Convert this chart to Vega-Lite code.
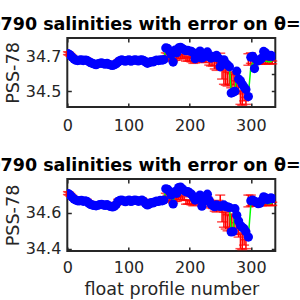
{
 "$schema": "https://vega.github.io/schema/vega-lite/v6.json",
 "autosize": {"type": "pad"},
 "padding": {"left": -49.7, "top": 14, "right": 0, "bottom": 0},
 "bounds": "flush",
 "spacing": 72,
 "data": {"values": [
  {"p":1,"s1":34.715,"lo1":34.71,"hi1":34.726,"c1":34.715,"s2":34.708,"lo2":34.703,"hi2":34.719,"c2":34.708},
  {"p":3,"s1":34.712,"lo1":34.707,"hi1":34.723,"c1":34.712,"s2":34.705,"lo2":34.70,"hi2":34.716,"c2":34.705},
  {"p":5,"s1":34.705,"lo1":34.70,"hi1":34.716,"c1":34.705,"s2":34.698,"lo2":34.693,"hi2":34.709,"c2":34.698},
  {"p":8,"s1":34.695,"lo1":34.69,"hi1":34.706,"c1":34.695,"s2":34.688,"lo2":34.683,"hi2":34.699,"c2":34.688},
  {"p":11,"s1":34.685,"lo1":34.68,"hi1":34.696,"c1":34.685,"s2":34.678,"lo2":34.673,"hi2":34.689,"c2":34.678},
  {"p":14,"s1":34.678,"lo1":34.673,"hi1":34.689,"c1":34.678,"s2":34.672,"lo2":34.667,"hi2":34.683,"c2":34.672},
  {"p":17,"s1":34.676,"lo1":34.671,"hi1":34.687,"c1":34.676,"s2":34.668,"lo2":34.663,"hi2":34.679,"c2":34.668},
  {"p":20,"s1":34.678,"lo1":34.673,"hi1":34.689,"c1":34.678,"s2":34.668,"lo2":34.663,"hi2":34.679,"c2":34.668},
  {"p":23,"s1":34.68,"lo1":34.675,"hi1":34.691,"c1":34.68,"s2":34.67,"lo2":34.665,"hi2":34.681,"c2":34.67},
  {"p":26,"s1":34.676,"lo1":34.671,"hi1":34.687,"c1":34.676,"s2":34.665,"lo2":34.66,"hi2":34.676,"c2":34.665},
  {"p":29,"s1":34.679,"lo1":34.674,"hi1":34.69,"c1":34.679,"s2":34.667,"lo2":34.662,"hi2":34.678,"c2":34.667},
  {"p":32,"s1":34.677,"lo1":34.672,"hi1":34.688,"c1":34.677,"s2":34.665,"lo2":34.66,"hi2":34.676,"c2":34.665},
  {"p":35,"s1":34.67,"lo1":34.665,"hi1":34.681,"c1":34.67,"s2":34.655,"lo2":34.65,"hi2":34.666,"c2":34.655},
  {"p":38,"s1":34.664,"lo1":34.659,"hi1":34.675,"c1":34.664,"s2":34.648,"lo2":34.643,"hi2":34.659,"c2":34.648},
  {"p":41,"s1":34.66,"lo1":34.655,"hi1":34.671,"c1":34.66,"s2":34.644,"lo2":34.639,"hi2":34.655,"c2":34.644},
  {"p":44,"s1":34.656,"lo1":34.651,"hi1":34.667,"c1":34.656,"s2":34.642,"lo2":34.637,"hi2":34.653,"c2":34.642},
  {"p":47,"s1":34.652,"lo1":34.647,"hi1":34.663,"c1":34.652,"s2":34.64,"lo2":34.635,"hi2":34.651,"c2":34.64},
  {"p":50,"s1":34.657,"lo1":34.652,"hi1":34.668,"c1":34.657,"s2":34.643,"lo2":34.638,"hi2":34.654,"c2":34.643},
  {"p":53,"s1":34.66,"lo1":34.655,"hi1":34.671,"c1":34.66,"s2":34.646,"lo2":34.641,"hi2":34.657,"c2":34.646},
  {"p":56,"s1":34.662,"lo1":34.657,"hi1":34.673,"c1":34.662,"s2":34.648,"lo2":34.643,"hi2":34.659,"c2":34.648},
  {"p":59,"s1":34.658,"lo1":34.653,"hi1":34.669,"c1":34.658,"s2":34.645,"lo2":34.64,"hi2":34.656,"c2":34.645},
  {"p":62,"s1":34.655,"lo1":34.65,"hi1":34.666,"c1":34.655,"s2":34.642,"lo2":34.637,"hi2":34.653,"c2":34.642},
  {"p":65,"s1":34.66,"lo1":34.655,"hi1":34.671,"c1":34.66,"s2":34.646,"lo2":34.641,"hi2":34.657,"c2":34.646},
  {"p":68,"s1":34.654,"lo1":34.649,"hi1":34.665,"c1":34.654,"s2":34.64,"lo2":34.635,"hi2":34.651,"c2":34.64},
  {"p":71,"s1":34.65,"lo1":34.645,"hi1":34.661,"c1":34.65,"s2":34.636,"lo2":34.631,"hi2":34.647,"c2":34.636},
  {"p":74,"s1":34.648,"lo1":34.643,"hi1":34.659,"c1":34.648,"s2":34.634,"lo2":34.629,"hi2":34.645,"c2":34.634},
  {"p":77,"s1":34.652,"lo1":34.647,"hi1":34.663,"c1":34.652,"s2":34.638,"lo2":34.633,"hi2":34.649,"c2":34.638},
  {"p":80,"s1":34.658,"lo1":34.653,"hi1":34.669,"c1":34.658,"s2":34.648,"lo2":34.643,"hi2":34.659,"c2":34.648},
  {"p":83,"s1":34.668,"lo1":34.663,"hi1":34.679,"c1":34.668,"s2":34.665,"lo2":34.66,"hi2":34.676,"c2":34.665},
  {"p":86,"s1":34.676,"lo1":34.671,"hi1":34.687,"c1":34.676,"s2":34.67,"lo2":34.665,"hi2":34.681,"c2":34.67},
  {"p":89,"s1":34.68,"lo1":34.675,"hi1":34.691,"c1":34.68,"s2":34.672,"lo2":34.667,"hi2":34.683,"c2":34.672},
  {"p":92,"s1":34.675,"lo1":34.67,"hi1":34.686,"c1":34.675,"s2":34.667,"lo2":34.662,"hi2":34.678,"c2":34.667},
  {"p":95,"s1":34.672,"lo1":34.667,"hi1":34.683,"c1":34.672,"s2":34.663,"lo2":34.658,"hi2":34.674,"c2":34.663},
  {"p":98,"s1":34.677,"lo1":34.672,"hi1":34.688,"c1":34.677,"s2":34.668,"lo2":34.663,"hi2":34.679,"c2":34.668},
  {"p":101,"s1":34.68,"lo1":34.675,"hi1":34.691,"c1":34.68,"s2":34.672,"lo2":34.667,"hi2":34.683,"c2":34.672},
  {"p":104,"s1":34.672,"lo1":34.667,"hi1":34.683,"c1":34.672,"s2":34.664,"lo2":34.659,"hi2":34.675,"c2":34.664},
  {"p":107,"s1":34.676,"lo1":34.671,"hi1":34.687,"c1":34.676,"s2":34.668,"lo2":34.663,"hi2":34.679,"c2":34.668},
  {"p":110,"s1":34.68,"lo1":34.675,"hi1":34.691,"c1":34.68,"s2":34.672,"lo2":34.667,"hi2":34.683,"c2":34.672},
  {"p":113,"s1":34.678,"lo1":34.673,"hi1":34.689,"c1":34.678,"s2":34.67,"lo2":34.665,"hi2":34.681,"c2":34.67},
  {"p":116,"s1":34.674,"lo1":34.669,"hi1":34.685,"c1":34.674,"s2":34.665,"lo2":34.66,"hi2":34.676,"c2":34.665},
  {"p":119,"s1":34.678,"lo1":34.673,"hi1":34.689,"c1":34.678,"s2":34.668,"lo2":34.663,"hi2":34.679,"c2":34.668},
  {"p":122,"s1":34.68,"lo1":34.675,"hi1":34.691,"c1":34.68,"s2":34.672,"lo2":34.667,"hi2":34.683,"c2":34.672},
  {"p":125,"s1":34.676,"lo1":34.671,"hi1":34.687,"c1":34.676,"s2":34.665,"lo2":34.66,"hi2":34.676,"c2":34.665},
  {"p":128,"s1":34.668,"lo1":34.663,"hi1":34.679,"c1":34.668,"s2":34.652,"lo2":34.647,"hi2":34.663,"c2":34.652},
  {"p":131,"s1":34.66,"lo1":34.655,"hi1":34.671,"c1":34.66,"s2":34.645,"lo2":34.64,"hi2":34.656,"c2":34.645},
  {"p":134,"s1":34.665,"lo1":34.66,"hi1":34.676,"c1":34.665,"s2":34.65,"lo2":34.645,"hi2":34.661,"c2":34.65},
  {"p":137,"s1":34.67,"lo1":34.665,"hi1":34.681,"c1":34.67,"s2":34.658,"lo2":34.653,"hi2":34.669,"c2":34.658},
  {"p":140,"s1":34.668,"lo1":34.663,"hi1":34.679,"c1":34.668,"s2":34.656,"lo2":34.651,"hi2":34.667,"c2":34.656},
  {"p":143,"s1":34.674,"lo1":34.669,"hi1":34.685,"c1":34.674,"s2":34.662,"lo2":34.657,"hi2":34.673,"c2":34.662},
  {"p":146,"s1":34.678,"lo1":34.673,"hi1":34.689,"c1":34.678,"s2":34.666,"lo2":34.661,"hi2":34.677,"c2":34.666},
  {"p":149,"s1":34.676,"lo1":34.671,"hi1":34.687,"c1":34.676,"s2":34.664,"lo2":34.659,"hi2":34.675,"c2":34.664},
  {"p":152,"s1":34.68,"lo1":34.675,"hi1":34.691,"c1":34.68,"s2":34.67,"lo2":34.665,"hi2":34.681,"c2":34.67},
  {"p":155,"s1":34.678,"lo1":34.673,"hi1":34.689,"c1":34.678,"s2":34.668,"lo2":34.663,"hi2":34.679,"c2":34.668},
  {"p":158,"s1":34.682,"lo1":34.677,"hi1":34.693,"c1":34.682,"s2":34.672,"lo2":34.667,"hi2":34.683,"c2":34.672},
  {"p":161,"s1":34.748,"lo1":34.68,"hi1":34.72,"c1":34.748,"s2":34.735,"lo2":34.67,"hi2":34.71,"c2":34.735},
  {"p":164,"s1":34.745,"lo1":34.685,"hi1":34.715,"c1":34.745,"s2":34.732,"lo2":34.67,"hi2":34.70,"c2":34.732},
  {"p":167,"s1":34.73,"lo1":34.678,"hi1":34.702,"c1":34.73,"s2":34.72,"lo2":34.665,"hi2":34.69,"c2":34.72},
  {"p":170,"s1":34.71,"lo1":34.673,"hi1":34.697,"c1":34.71,"s2":34.70,"lo2":34.66,"hi2":34.684,"c2":34.70},
  {"p":173,"s1":34.667,"lo1":34.67,"hi1":34.69,"c1":34.667,"s2":34.65,"lo2":34.655,"hi2":34.679,"c2":34.65},
  {"p":176,"s1":34.735,"lo1":34.678,"hi1":34.702,"c1":34.735,"s2":34.72,"lo2":34.665,"hi2":34.689,"c2":34.72},
  {"p":179,"s1":34.72,"lo1":34.678,"hi1":34.702,"c1":34.72,"s2":34.71,"lo2":34.665,"hi2":34.689,"c2":34.71},
  {"p":182,"s1":34.748,"lo1":34.688,"hi1":34.712,"c1":34.748,"s2":34.742,"lo2":34.675,"hi2":34.70,"c2":34.742},
  {"p":185,"s1":34.752,"lo1":34.688,"hi1":34.712,"c1":34.752,"s2":34.745,"lo2":34.675,"hi2":34.70,"c2":34.745},
  {"p":188,"s1":34.745,"lo1":34.69,"hi1":34.71,"c1":34.745,"s2":34.735,"lo2":34.675,"hi2":34.695,"c2":34.735},
  {"p":191,"s1":34.738,"lo1":34.685,"hi1":34.705,"c1":34.738,"s2":34.725,"lo2":34.67,"hi2":34.69,"c2":34.725},
  {"p":194,"s1":34.732,"lo1":34.673,"hi1":34.697,"c1":34.732,"s2":34.718,"lo2":34.649,"hi2":34.671,"c2":34.718},
  {"p":197,"s1":34.734,"lo1":34.673,"hi1":34.697,"c1":34.734,"s2":34.72,"lo2":34.65,"hi2":34.672,"c2":34.72},
  {"p":200,"s1":34.73,"lo1":34.673,"hi1":34.697,"c1":34.73,"s2":34.712,"lo2":34.65,"hi2":34.672,"c2":34.712},
  {"p":203,"s1":34.728,"lo1":34.668,"hi1":34.692,"c1":34.728,"s2":34.705,"lo2":34.645,"hi2":34.67,"c2":34.705},
  {"p":206,"s1":34.72,"lo1":34.66,"hi1":34.69,"c1":34.72,"s2":34.69,"lo2":34.64,"hi2":34.668,"c2":34.69},
  {"p":209,"s1":34.686,"lo1":34.663,"hi1":34.687,"c1":34.686,"s2":34.672,"lo2":34.645,"hi2":34.668,"c2":34.672},
  {"p":212,"s1":34.70,"lo1":34.67,"hi1":34.70,"c1":34.70,"s2":34.68,"lo2":34.65,"hi2":34.68,"c2":34.68},
  {"p":215,"s1":34.72,"lo1":34.67,"hi1":34.70,"c1":34.72,"s2":34.69,"lo2":34.655,"hi2":34.685,"c2":34.69},
  {"p":217,"s1":34.73,"lo1":34.678,"hi1":34.702,"c1":34.73,"s2":34.70,"lo2":34.66,"hi2":34.685,"c2":34.70},
  {"p":220,"s1":34.69,"lo1":34.67,"hi1":34.70,"c1":34.69,"s2":34.638,"lo2":34.655,"hi2":34.685,"c2":34.638},
  {"p":223,"s1":34.71,"lo1":34.665,"hi1":34.695,"c1":34.71,"s2":34.665,"lo2":34.648,"hi2":34.678,"c2":34.665},
  {"p":226,"s1":34.70,"lo1":34.665,"hi1":34.695,"c1":34.70,"s2":34.672,"lo2":34.645,"hi2":34.675,"c2":34.672},
  {"p":229,"s1":34.725,"lo1":34.675,"hi1":34.705,"c1":34.725,"s2":34.705,"lo2":34.66,"hi2":34.69,"c2":34.705},
  {"p":232,"s1":34.70,"lo1":34.65,"hi1":34.69,"c1":34.70,"s2":34.67,"lo2":34.635,"hi2":34.675,"c2":34.67},
  {"p":235,"s1":34.69,"lo1":34.645,"hi1":34.685,"c1":34.69,"s2":34.65,"lo2":34.628,"hi2":34.668,"c2":34.65},
  {"p":238,"s1":34.70,"lo1":34.645,"hi1":34.685,"c1":34.70,"s2":34.64,"lo2":34.625,"hi2":34.665,"c2":34.64},
  {"p":241,"s1":34.695,"lo1":34.628,"hi1":34.672,"c1":34.695,"s2":34.635,"lo2":34.61,"hi2":34.655,"c2":34.635},
  {"p":244,"s1":34.705,"lo1":34.62,"hi1":34.67,"c1":34.705,"s2":34.645,"lo2":34.605,"hi2":34.655,"c2":34.645},
  {"p":247,"s1":34.69,"lo1":34.635,"hi1":34.685,"c1":34.69,"s2":34.64,"lo2":34.62,"hi2":34.67,"c2":34.64},
  {"p":250,"s1":34.64,"lo1":34.662,"hi1":34.718,"c1":34.655,"s2":34.636,"lo2":34.643,"hi2":34.70,"c2":34.636},
  {"p":253,"s1":34.67,"lo1":34.57,"hi1":34.63,"c1":34.66,"s2":34.64,"lo2":34.55,"hi2":34.615,"c2":34.64},
  {"p":256,"s1":34.68,"lo1":34.54,"hi1":34.62,"c1":34.665,"s2":34.645,"lo2":34.52,"hi2":34.605,"c2":34.645},
  {"p":259,"s1":34.66,"lo1":34.535,"hi1":34.625,"c1":34.66,"s2":34.635,"lo2":34.51,"hi2":34.605,"c2":34.635},
  {"p":262,"s1":34.65,"lo1":34.53,"hi1":34.61,"c1":34.65,"s2":34.634,"lo2":34.50,"hi2":34.59,"c2":34.634},
  {"p":265,"s1":34.64,"lo1":34.54,"hi1":34.61,"c1":34.64,"s2":34.63,"lo2":34.52,"hi2":34.595,"c2":34.63},
  {"p":268,"s1":34.49,"lo1":34.52,"hi1":34.60,"c1":34.49,"s2":34.494,"lo2":34.50,"hi2":34.585,"c2":34.494},
  {"p":271,"s1":34.495,"lo1":34.535,"hi1":34.605,"c1":34.495,"s2":34.496,"lo2":34.515,"hi2":34.59,"c2":34.496},
  {"p":274,"s1":34.50,"lo1":34.525,"hi1":34.595,"c1":34.50,"s2":34.624,"lo2":34.505,"hi2":34.58,"c2":34.624},
  {"p":277,"s1":34.615,"lo1":34.50,"hi1":34.56,"c1":34.615,"s2":34.587,"lo2":34.48,"hi2":34.545,"c2":34.587},
  {"p":280,"s1":34.57,"lo1":34.485,"hi1":34.555,"c1":34.57,"s2":34.555,"lo2":34.465,"hi2":34.54,"c2":34.555},
  {"p":283,"s1":34.56,"lo1":34.425,"hi1":34.495,"c1":34.56,"s2":34.53,"lo2":34.40,"hi2":34.48,"c2":34.53},
  {"p":286,"s1":34.54,"lo1":34.42,"hi1":34.50,"c1":34.54,"s2":34.52,"lo2":34.395,"hi2":34.485,"c2":34.52},
  {"p":289,"s1":34.525,"lo1":34.445,"hi1":34.505,"c1":34.525,"s2":34.512,"lo2":34.42,"hi2":34.49,"c2":34.512},
  {"p":292,"s1":34.51,"lo1":34.425,"hi1":34.465,"c1":34.51,"s2":34.495,"lo2":34.40,"hi2":34.45,"c2":34.495},
  {"p":296,"s1":34.47,"lo1":34.649,"hi1":34.715,"c1":34.48,"s2":34.465,"lo2":34.634,"hi2":34.70,"c2":34.47},
  {"p":300,"s1":34.695,"lo1":34.66,"hi1":34.72,"c1":34.64,"s2":34.668,"lo2":34.64,"hi2":34.70,"c2":34.645},
  {"p":303,"s1":34.70,"lo1":34.658,"hi1":34.682,"c1":34.66,"s2":34.672,"lo2":34.64,"hi2":34.664,"c2":34.652},
  {"p":306,"s1":34.63,"lo1":34.653,"hi1":34.677,"c1":34.63,"s2":34.665,"lo2":34.638,"hi2":34.662,"c2":34.65},
  {"p":309,"s1":34.68,"lo1":34.655,"hi1":34.675,"c1":34.665,"s2":34.66,"lo2":34.64,"hi2":34.662,"c2":34.652},
  {"p":312,"s1":34.675,"lo1":34.655,"hi1":34.675,"c1":34.668,"s2":34.652,"lo2":34.64,"hi2":34.662,"c2":34.652},
  {"p":315,"s1":34.68,"lo1":34.657,"hi1":34.673,"c1":34.67,"s2":34.655,"lo2":34.642,"hi2":34.66,"c2":34.653},
  {"p":318,"s1":34.69,"lo1":34.655,"hi1":34.675,"c1":34.67,"s2":34.67,"lo2":34.64,"hi2":34.662,"c2":34.654},
  {"p":321,"s1":34.728,"lo1":34.66,"hi1":34.676,"c1":34.675,"s2":34.69,"lo2":34.645,"hi2":34.662,"c2":34.655},
  {"p":324,"s1":34.72,"lo1":34.657,"hi1":34.673,"c1":34.672,"s2":34.685,"lo2":34.642,"hi2":34.66,"c2":34.654},
  {"p":327,"s1":34.705,"lo1":34.66,"hi1":34.676,"c1":34.67,"s2":34.675,"lo2":34.645,"hi2":34.662,"c2":34.653},
  {"p":330,"s1":34.70,"lo1":34.655,"hi1":34.675,"c1":34.668,"s2":34.678,"lo2":34.64,"hi2":34.662,"c2":34.652},
  {"p":333,"s1":34.705,"lo1":34.658,"hi1":34.678,"c1":34.672,"s2":34.685,"lo2":34.643,"hi2":34.663,"c2":34.655},
  {"p":335,"s1":34.70,"lo1":34.657,"hi1":34.673,"c1":34.67,"s2":34.68,"lo2":34.642,"hi2":34.66,"c2":34.654}
 ]},
 "vconcat": [
  {
   "width": 208, "height": 69,
   "title": {"text": "1900790 salinities with error on θ=3.5°C", "anchor": "start", "frame": "group", "dx": -115.4, "offset": 4},
   "layer": [
    {"layer": [
     {"mark": {"type": "errorbar", "ticks": true, "size": 10, "thickness": 1.5, "color": "#ff0000"},
      "encoding": {
       "x": {"field": "p", "type": "quantitative", "scale": {"domain": [0, 340], "nice": false, "zero": false}, "axis": {"values": [0, 100, 200, 300], "title": null}},
       "y": {"field": "lo1", "type": "quantitative", "scale": {"domain": [34.41, 34.805], "nice": false, "zero": false}, "axis": {"values": [34.5, 34.6, 34.7], "title": "PSS-78", "format": ".1f"}},
       "y2": {"field": "hi1"}}},
     {"mark": {"type": "line", "color": "#00ff00", "strokeWidth": 1.5, "clip": true},
      "encoding": {"x": {"field": "p", "type": "quantitative"}, "y": {"field": "c1", "type": "quantitative"}}},
     {"mark": {"type": "circle", "color": "#0000ff", "size": 85, "opacity": 1, "clip": true},
      "encoding": {"x": {"field": "p", "type": "quantitative"}, "y": {"field": "s1", "type": "quantitative"}}}
    ]},
    {"mark": {"type": "point", "opacity": 0},
     "encoding": {
      "x": {"field": "p", "type": "quantitative", "axis": {"orient": "top", "labels": false, "title": null, "values": [0, 100, 200, 300]}},
      "y": {"field": "s1", "type": "quantitative", "axis": {"orient": "right", "labels": false, "title": null, "values": [34.5, 34.6, 34.7]}}}}
   ],
   "resolve": {"axis": {"x": "independent", "y": "independent"}}
  },
  {
   "width": 208, "height": 72,
   "title": {"text": "1900790 salinities with error on θ=2.8°C", "anchor": "start", "frame": "group", "dx": -115.4, "offset": 4},
   "layer": [
    {"layer": [
     {"mark": {"type": "errorbar", "ticks": true, "size": 10, "thickness": 1.5, "color": "#ff0000"},
      "encoding": {
       "x": {"field": "p", "type": "quantitative", "scale": {"domain": [0, 340], "nice": false, "zero": false}, "axis": {"values": [0, 100, 200, 300], "title": "float profile number", "labelPadding": 12.5, "titlePadding": 5}},
       "y": {"field": "lo2", "type": "quantitative", "scale": {"domain": [34.387, 34.79], "nice": false, "zero": false}, "axis": {"values": [34.4, 34.6], "title": "PSS-78", "format": ".1f"}},
       "y2": {"field": "hi2"}}},
     {"mark": {"type": "line", "color": "#00ff00", "strokeWidth": 1.5, "clip": true},
      "encoding": {"x": {"field": "p", "type": "quantitative"}, "y": {"field": "c2", "type": "quantitative"}}},
     {"mark": {"type": "circle", "color": "#0000ff", "size": 85, "opacity": 1, "clip": true},
      "encoding": {"x": {"field": "p", "type": "quantitative"}, "y": {"field": "s2", "type": "quantitative"}}}
    ]},
    {"mark": {"type": "point", "opacity": 0},
     "encoding": {
      "x": {"field": "p", "type": "quantitative", "axis": {"orient": "top", "labels": false, "title": null, "values": [0, 100, 200, 300]}},
      "y": {"field": "s2", "type": "quantitative", "axis": {"orient": "right", "labels": false, "title": null, "values": [34.4, 34.6]}}}}
   ],
   "resolve": {"axis": {"x": "independent", "y": "independent"}}
  }
 ],
 "config": {
  "font": "DejaVu Sans",
  "view": {"stroke": "#262626", "strokeWidth": 2},
  "title": {"font": "DejaVu Sans", "fontSize": 17.5, "fontWeight": "bold", "color": "#000000"},
  "axis": {
   "domain": false, "grid": false, "ticks": true, "tickSize": -4, "tickWidth": 1.5, "tickColor": "#262626",
   "labelFont": "DejaVu Sans", "labelFontSize": 16, "labelColor": "#262626", "labelFlush": false, "labelOverlap": false,
   "titleFont": "DejaVu Sans", "titleFontSize": 17.6, "titleFontWeight": "normal", "titleColor": "#262626"
  },
  "axisX": {"labelPadding": 14.5, "titlePadding": 0},
  "axisY": {"labelPadding": 10.5, "titlePadding": 2.5}
 }
}
